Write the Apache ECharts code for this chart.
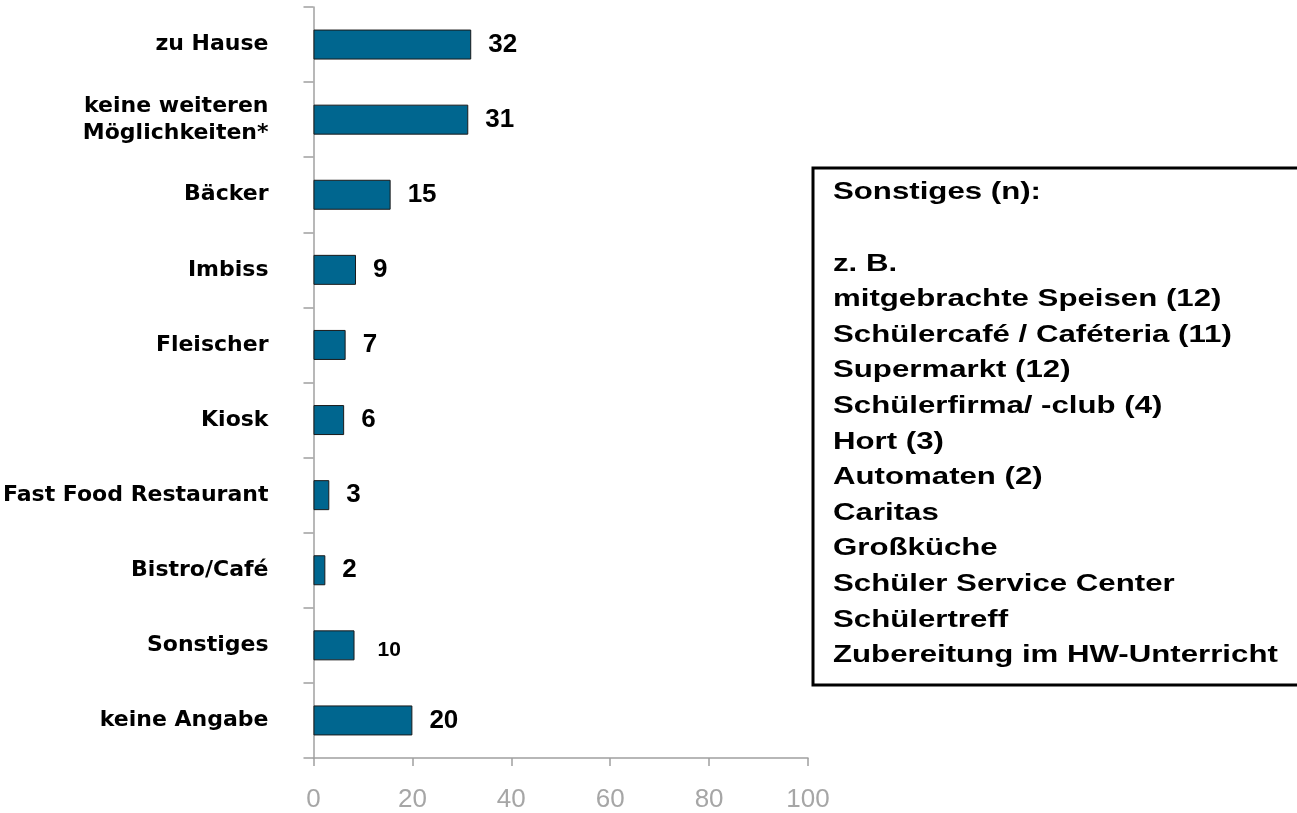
<!DOCTYPE html>
<html>
<head>
<meta charset="utf-8">
<script src="https://cdn.jsdelivr.net/npm/echarts@6/dist/echarts.min.js"></script>
<style>
    html, body { margin: 0; padding: 0; background: #fff; }
    #chart { width: 1297px; height: 813px; }
</style>
</head>
<body>
<div id="chart"></div>
<script>
// Kategorien (von oben nach unten)
var categories = ['zu Hause', 'keine weiteren\nMöglichkeiten*', 'Bäcker', 'Imbiss', 'Fleischer',
    'Kiosk', 'Fast Food Restaurant', 'Bistro/Café', 'Sonstiges', 'keine Angabe'];
// Balkenlängen
var values = [31.9, 31.3, 15.6, 8.6, 6.5, 6.2, 3.2, 2.4, 8.3, 20.0];
// angezeigte Werte
var valueLabels = ['32', '31', '15', '9', '7', '6', '3', '2', '10', '20'];
var xTicks = [0, 20, 40, 60, 80, 100];
// Textkasten rechts
var noteLines = ['Sonstiges (n):', '', 'z. B.', 'mitgebrachte Speisen (12)', 'Schülercafé / Caféteria (11)',
    'Supermarkt (12)', 'Schülerfirma/ -club (4)', 'Hort (3)', 'Automaten (2)', 'Caritas', 'Großküche',
    'Schüler Service Center', 'Schülertreff', 'Zubereitung im HW-Unterricht'];

var chart = echarts.init(document.getElementById('chart'));

var barData = values.map(function (v, i) {
    var item = {
        value: v,
        label: { formatter: valueLabels[i] }
    };
    // "Sonstiges" hat eine kleinere Beschriftung
    if (categories[i] === 'Sonstiges') {
        item.label.fontSize = 21;
        item.label.distance = 23;
        item.label.offset = [0, 5];
    }
    return item;
});

var option = {
    animation: false,
    grid: { left: 313, right: 489, top: 7, bottom: 51, containLabel: false },
    xAxis: {
        type: 'value',
        min: xTicks[0],
        max: xTicks[xTicks.length - 1],
        interval: 20,
        splitLine: { show: false },
        axisLine: { show: true, lineStyle: { color: '#a0a0a0', width: 1.5 } },
        axisTick: { show: true, length: 8, lineStyle: { color: '#a0a0a0', width: 1.5 } },
        axisLabel: {
            margin: 29,
            color: '#a6a6a6',
            fontSize: 26,
            fontFamily: 'Liberation Sans'
        }
    },
    yAxis: {
        type: 'category',
        inverse: true,
        data: categories,
        axisLine: { show: true, lineStyle: { color: '#a0a0a0', width: 1.5 } },
        axisTick: { show: true, length: 10, lineStyle: { color: '#a0a0a0', width: 1.5 } },
        axisLabel: {
            margin: 45,
            color: '#000',
            fontSize: 22,
            fontWeight: 'bold',
            fontFamily: 'DejaVu Sans',
            lineHeight: 27,
            align: 'right'
        }
    },
    series: [
        {
            type: 'bar',
            data: barData,
            barWidth: 30,
            itemStyle: {
                color: '#00668f',
                borderColor: '#1a1a1a',
                borderWidth: 1
            },
            label: {
                show: true,
                position: 'right',
                distance: 17,
                color: '#000',
                fontSize: 26,
                fontWeight: 'bold',
                fontFamily: 'Liberation Sans'
            }
        }
    ],
    graphic: [
        {
            type: 'rect',
            shape: { x: 813, y: 168, width: 520, height: 517 },
            style: { fill: 'none', stroke: '#000', lineWidth: 3 }
        },
        {
            // Text im Original horizontal gestreckt
            type: 'text',
            x: 833,
            y: 175,
            scaleX: 1.3,
            style: {
                text: noteLines.join('\n'),
                fill: '#000',
                font: 'bold 24px "Liberation Sans"',
                lineHeight: 35.6
            }
        }
    ]
};
chart.setOption(option);
</script>
</body>
</html>
